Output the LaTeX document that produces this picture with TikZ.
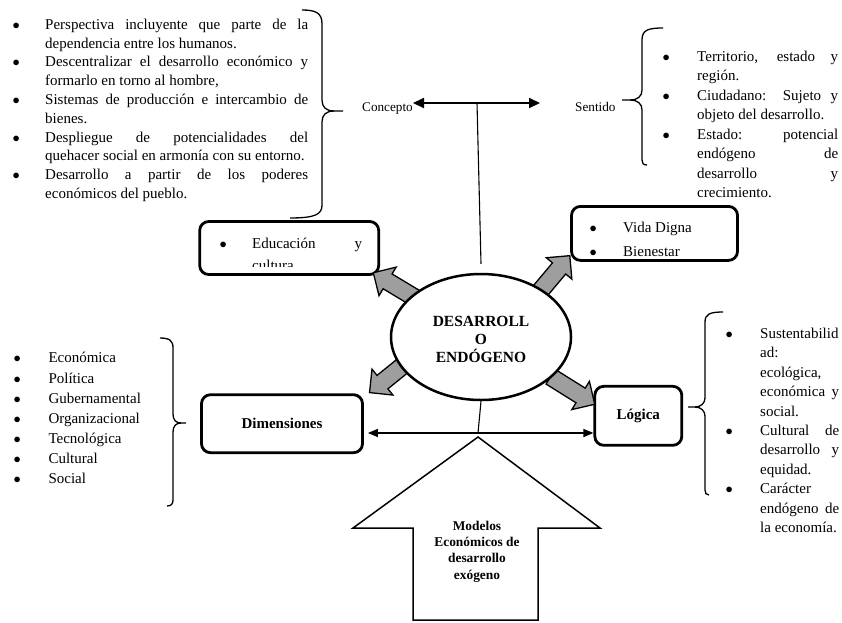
\documentclass[tikz,border=0pt]{standalone}
\usepackage{fontspec}
\setmainfont{Liberation Serif}
\usetikzlibrary{shapes.geometric,shapes.arrows,arrows.meta}
\newcommand{\bul}{$\bullet$}
\newcommand{\bl}[3]{\makebox[#1][l]{\bul}\makebox[#2][s]{#3}}
\newcommand{\bn}[2]{\makebox[#1][l]{\bul}#2}
\newcommand{\jl}[3]{\hspace*{#1}\makebox[#2][s]{#3}}
\newcommand{\nl}[2]{\hspace*{#1}#2}
\begin{document}
\begin{tikzpicture}[x=1pt,y=-1pt,
 lst/.style={inner sep=0pt, align=left, font=\fontsize{15}{18.8}\selectfont},
 lbl/.style={inner sep=0pt, font=\fontsize{13.2}{16}\selectfont},
 box/.style={draw, line width=2.8pt, rounded corners=9pt, inner sep=0pt},
 boxtxt/.style={font=\bfseries\fontsize{15}{18}\selectfont},
 garrow/.style={single arrow, draw=black, line width=1.3pt, fill=black!38, minimum height=52pt,
   inner xsep=0pt, inner ysep=8pt, single arrow head extend=8pt},
 brace/.style={line width=1.3pt},
 thin/.style={line width=1.1pt},
 dbl/.style={{Triangle[length=11pt,width=10pt]}-{Triangle[length=11pt,width=10pt]}, line width=2pt},
 dblb/.style={{Triangle[length=10pt,width=8pt]}-{Triangle[length=10pt,width=8pt]}, line width=1.5pt}
]
\path[use as bounding box, fill=white] (0,0) rectangle (842,622);

% ---------- top-left list (anchor = baseline of last line) ----------
\node[lst, anchor=base west] (tllist) at (12.5,198.5) {%
\bl{32.5pt}{263pt}{Perspectiva incluyente que parte de la}\\
\nl{32.5pt}{dependencia entre los humanos.}\\
\bl{32.5pt}{263pt}{Descentralizar el desarrollo económico y}\\
\nl{32.5pt}{formarlo en torno al hombre,}\\
\bl{32.5pt}{263pt}{Sistemas de producción e intercambio de}\\
\nl{32.5pt}{bienes.}\\
\bl{32.5pt}{263pt}{Despliegue de potencialidades del}\\
\nl{32.5pt}{quehacer social en armonía con su entorno.}\\
\bl{32.5pt}{263pt}{Desarrollo a partir de los poderes}\\
\nl{32.5pt}{económicos del pueblo.}};

\draw[brace] (302,10) .. controls (316,10) and (322,13) .. (322,24) -- (322,100)
  .. controls (322,107) and (326,111) .. (334,111) -- (343,111);
\draw[brace] (334,111) .. controls (326,111) and (322,115) .. (322,122) -- (322,205)
  .. controls (322,214) and (316,218) .. (290,218);

% ---------- Concepto / Sentido ----------
\node[lbl, anchor=base east] (concepto) at (413,111) {Concepto};
\node[lbl, anchor=base west] (sentido) at (575,111) {Sentido};
\coordinate (tjunc) at (477,103);
\coordinate (sentL) at (540,103);
\draw[dbl] (concepto.east |- tjunc) -- (sentL);

\draw[brace] (663,28) .. controls (648,28) and (642,30) .. (642,40) -- (642,90)
  .. controls (642,96) and (638,100) .. (630,100) -- (622,100);
\draw[brace] (630,100) .. controls (638,100) and (642,104) .. (642,110) -- (642,160)
  .. controls (642,163) and (643,165) .. (647,165);

\node[lst, font=\fontsize{15}{19.5}\selectfont, anchor=base west] (sentlist) at (662.5,197.5) {%
\bl{34.5pt}{141pt}{Territorio, estado y}\\
\nl{34.5pt}{región.}\\
\bl{34.5pt}{141pt}{Ciudadano: Sujeto y}\\
\nl{34.5pt}{objeto del desarrollo.}\\
\bl{34.5pt}{141pt}{Estado: potencial}\\
\jl{34.5pt}{141pt}{endógeno de}\\
\jl{34.5pt}{141pt}{desarrollo y}\\
\nl{34.5pt}{crecimiento.}};

% ---------- boxes ----------
\node[box, minimum width=179pt, minimum height=53pt] (educ) at (289.2,248) {};
\begin{scope}
  \clip (200,222) rectangle (378,266);
  \node[lst, font=\fontsize{15}{22}\selectfont, anchor=base west] (eductxt) at (219.5,270) {%
  \bl{32.5pt}{110pt}{Educación y}\\
  \nl{32.5pt}{cultura}};
\end{scope}

\node[box, minimum width=166pt, minimum height=54pt] (vida) at (654.5,233.4) {};
\begin{scope}
  \clip (572,207) rectangle (737,257);
  \node[lst, font=\fontsize{15}{24}\selectfont, anchor=base west] (vidatxt) at (589.5,256.5) {%
  \bn{33.5pt}{Vida Digna}\\
  \bn{33.5pt}{Bienestar}};
\end{scope}

\node[box, boxtxt, minimum width=161pt, minimum height=58pt] (dim) at (282,423.7) {Dimensiones};
\node[box, boxtxt, minimum width=87pt, minimum height=59pt] (logica) at (638.3,415.8) {Lógica};

% ---------- gray arrows ----------
\node[garrow, rotate=149] (arUL) at (399.3,288.4) {};
\node[garrow, rotate=50] (arUR) at (550.3,278.9) {};
\node[garrow, rotate=219] (arLL) at (393.1,373.5) {};
\node[garrow, rotate=-32] (arLR) at (569,388.2) {};

% ---------- central ellipse ----------
\node[draw, ellipse, line width=2.5pt, fill=white, minimum width=180pt, minimum height=126pt,
  inner sep=0pt] (core) at (481,337) {};
\node[inner sep=0pt, align=center, font=\bfseries\fontsize{15.5}{18}\selectfont] (coretxt) at (481,339.5)
  {DESARROLL\\O\\ENDÓGENO};

\draw[thin] (tjunc) -- ([yshift=9pt]core.north);

% ---------- bottom connectors ----------
\coordinate (bjunc) at (478,433);
\draw[thin] (core.south) -- (bjunc);
\draw[dblb, shorten <=4pt] (dim.east |- bjunc) -- (logica.west |- bjunc);

% ---------- big up arrow ----------
\draw[line width=1.5pt, line join=miter] (478,437) -- (600,528) -- (538,528) -- (538,620)
  -- (413,620) -- (413,528) -- (353,528) -- cycle;
\node[inner sep=0pt, align=center, font=\bfseries\fontsize{13.4}{16.4}\selectfont] (exo) at (477,551.5)
  {Modelos\\Económicos de\\desarrollo\\exógeno};

% ---------- Dimensiones list ----------
\draw[brace] (160,338) .. controls (170,338) and (173,341) .. (173,348) -- (173,414)
  .. controls (173,420) and (176,423) .. (181,423) -- (186,423);
\draw[brace] (181,423) .. controls (176,423) and (173,426) .. (173,432) -- (173,500)
  .. controls (173,504) and (171,506) .. (167,506);
\node[lst, font=\fontsize{15}{20.1}\selectfont, anchor=base west] (dimlist) at (13.5,483.5) {%
\bn{34.8pt}{Económica}\\
\bn{34.8pt}{Política}\\
\bn{34.8pt}{Gubernamental}\\
\bn{34.8pt}{Organizacional}\\
\bn{34.8pt}{Tecnológica}\\
\bn{34.8pt}{Cultural}\\
\bn{34.8pt}{Social}};

% ---------- Lógica list ----------
\draw[brace] (723,312) .. controls (710,312) and (705,314) .. (705,322) -- (705,398)
  .. controls (705,403) and (701,407) .. (695,407) -- (688,407);
\draw[brace] (695,407) .. controls (701,407) and (705,411) .. (705,416) -- (705,490)
  .. controls (705,493) and (706,495) .. (709,495);
\node[lst, font=\fontsize{15}{19.4}\selectfont, anchor=base west] (loglist) at (725.5,532.5) {%
\bn{34.5pt}{Sustentabilid}\\
\nl{34.5pt}{ad:}\\
\nl{34.5pt}{ecológica,}\\
\jl{34.5pt}{79pt}{económica y}\\
\nl{34.5pt}{social.}\\
\bl{34.5pt}{79pt}{Cultural de}\\
\jl{34.5pt}{79pt}{desarrollo y}\\
\nl{34.5pt}{equidad.}\\
\bn{34.5pt}{Carácter}\\
\jl{34.5pt}{79pt}{endógeno de}\\
\nl{34.5pt}{la economía.}};
\end{tikzpicture}
\end{document}
